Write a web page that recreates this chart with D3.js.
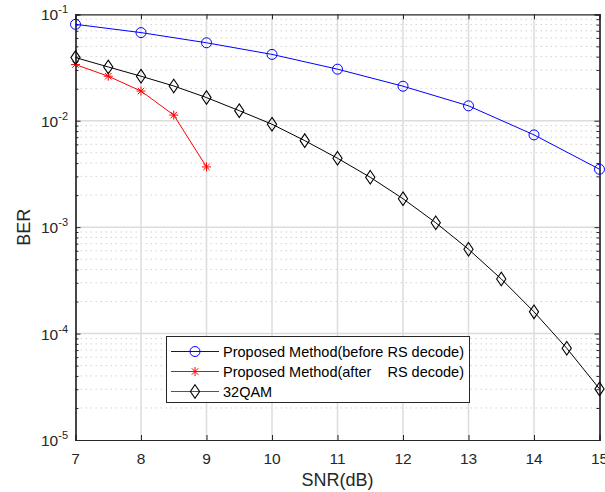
<!DOCTYPE html>
<html>
<head>
<meta charset="utf-8">
<script src="https://cdn.jsdelivr.net/npm/d3@7"></script>
<style>
  html, body { margin: 0; padding: 0; background: #fff; }
  svg { display: block; font-family: "Liberation Sans", Arial, sans-serif; }
</style>
</head>
<body>
<svg id="chart" width="605" height="492"></svg>
<script>
// SNR sample points (dB)
const snrInt = [7, 8, 9, 10, 11, 12, 13, 14, 15];
const snrAfter = [7, 7.5, 8, 8.5, 9];
const snrQam = [7, 7.5, 8, 8.5, 9, 9.5, 10, 10.5, 11, 11.5, 12, 12.5, 13, 13.5, 14, 14.5, 15];

// BER values
const berBefore = [0.0805, 0.0673, 0.054, 0.042, 0.0305, 0.0211, 0.0138, 0.00736, 0.0035];
const berAfter = [0.0337, 0.0262, 0.019, 0.0113, 0.00368];
const berQam = [0.0392, 0.032, 0.0262, 0.0212, 0.0165, 0.01243, 0.00927, 0.0065, 0.00444,
                0.00294, 0.00185, 0.0011, 0.00062, 0.000326, 0.00016, 0.0000728, 0.0000302];

// Axis ticks
const xTicks = [7, 8, 9, 10, 11, 12, 13, 14, 15];
const yExponents = [-5, -4, -3, -2, -1];

const legendLabels = [
  "Proposed Method(before RS decode)",
  "Proposed Method(after    RS decode)",
  "32QAM"
];

const svg = d3.select("#chart");
const plotL = 75.5, plotR = 599.5, plotT = 14.3, plotB = 440;

const x = d3.scaleLinear().domain([7, 15]).range([plotL, plotR]);
const y = d3.scaleLog().domain([1e-5, 1e-1]).range([plotB, plotT]);

const textColor = "#262626";

// Grid: minor dotted decades, then major solid lines
const g = svg.append("g");
const minorVals = [];
yExponents.slice(0, -1).forEach(e => {
  for (let k = 2; k <= 9; k++) minorVals.push(k * Math.pow(10, e));
});
g.selectAll(".yminor").data(minorVals).join("line")
  .attr("x1", plotL).attr("x2", plotR)
  .attr("y1", d => y(d)).attr("y2", d => y(d))
  .attr("stroke", "#d2d2d2").attr("stroke-width", 1)
  .attr("stroke-dasharray", "1.5,3.5");
g.selectAll(".xgrid").data(xTicks.slice(1, -1)).join("line")
  .attr("x1", d => x(d)).attr("x2", d => x(d))
  .attr("y1", plotT).attr("y2", plotB)
  .attr("stroke", "#dcdcdc").attr("stroke-width", 1.5);
g.selectAll(".ygrid").data(yExponents.slice(1, -1).map(e => Math.pow(10, e))).join("line")
  .attr("x1", plotL).attr("x2", plotR)
  .attr("y1", d => y(d)).attr("y2", d => y(d))
  .attr("stroke", "#dcdcdc").attr("stroke-width", 1.5);

// Axes with inward ticks on all four sides
const majorY = yExponents.map(e => Math.pow(10, e));
const axisB = d3.axisBottom(x).tickValues(xTicks).tickSize(-5).tickFormat("");
const axisT = d3.axisTop(x).tickValues(xTicks).tickSize(-5).tickFormat("");
const axisL = d3.axisLeft(y).tickValues(majorY).tickSize(-5).tickFormat("");
const axisR = d3.axisRight(y).tickValues(majorY).tickSize(-5).tickFormat("");
const axisLm = d3.axisLeft(y).tickValues(minorVals).tickSize(-3).tickFormat("");
const axisRm = d3.axisRight(y).tickValues(minorVals).tickSize(-3).tickFormat("");

function styleAxis(sel) {
  sel.selectAll("path").attr("stroke", textColor).attr("stroke-width", 1.2);
  sel.selectAll("line").attr("stroke", textColor).attr("stroke-width", 1);
}
svg.append("g").attr("transform", `translate(0,${plotB})`).call(axisB).call(styleAxis);
svg.append("g").attr("transform", `translate(0,${plotT})`).call(axisT).call(styleAxis);
svg.append("g").attr("transform", `translate(${plotL},0)`).call(axisL).call(styleAxis);
svg.append("g").attr("transform", `translate(${plotR},0)`).call(axisR).call(styleAxis);
svg.append("g").attr("transform", `translate(${plotL},0)`).call(axisLm).call(styleAxis);
svg.append("g").attr("transform", `translate(${plotR},0)`).call(axisRm).call(styleAxis);

// Tick labels
svg.append("g").selectAll("text").data(xTicks).join("text")
  .attr("x", d => x(d)).attr("y", plotB + 24)
  .attr("text-anchor", "middle").attr("fill", textColor)
  .style("font-size", "15.5px").text(d => d);

const yl = svg.append("g").selectAll("text").data(yExponents).join("text")
  .attr("x", 68).attr("y", d => y(Math.pow(10, d)) + 6)
  .attr("text-anchor", "end").attr("fill", textColor)
  .style("font-size", "15.5px");
yl.append("tspan").text("10");
yl.append("tspan").attr("dy", -7).style("font-size", "11px").text(d => "-" + Math.abs(d));

// Axis titles
svg.append("text").attr("x", (plotL + plotR) / 2).attr("y", plotB + 46)
  .attr("text-anchor", "middle").attr("fill", textColor)
  .style("font-size", "18px").text("SNR(dB)");
svg.append("text")
  .attr("transform", `translate(30,${(plotT + plotB) / 2}) rotate(-90)`)
  .attr("text-anchor", "middle").attr("fill", textColor)
  .style("font-size", "18px").text("BER");

// Marker shapes
function circleMarker(sel, color) {
  sel.append("circle").attr("r", 5).attr("fill", "none")
    .attr("stroke", color).attr("stroke-width", 1);
}
function starMarker(sel, color) {
  const r = 4.5, d = r * 0.72;
  const segs = [[0, -r, 0, r], [-r, 0, r, 0], [-d, -d, d, d], [-d, d, d, -d]];
  segs.forEach(s => sel.append("line")
    .attr("x1", s[0]).attr("y1", s[1]).attr("x2", s[2]).attr("y2", s[3])
    .attr("stroke", color).attr("stroke-width", 1));
}
function diamondMarker(sel, color) {
  sel.append("path").attr("d", "M0,-6.8L4.6,0L0,6.8L-4.6,0Z")
    .attr("fill", "none").attr("stroke", color).attr("stroke-width", 1.1);
}

const series = [
  { xs: snrInt, ys: berBefore, color: "#0000ff", marker: circleMarker, legendLine: "#0000ff" },
  { xs: snrAfter, ys: berAfter, color: "#ff0000", marker: starMarker, legendLine: "#ff0000" },
  { xs: snrQam, ys: berQam, color: "#000000", marker: diamondMarker, legendLine: "#555555" }
];

const line = d3.line().x(d => x(d[0])).y(d => y(d[1]));
series.forEach(s => {
  const pts = s.xs.map((v, i) => [v, s.ys[i]]);
  svg.append("path").datum(pts).attr("d", line)
    .attr("fill", "none").attr("stroke", s.color).attr("stroke-width", 1);
  svg.append("g").selectAll("g").data(pts).join("g")
    .attr("transform", d => `translate(${x(d[0])},${y(d[1])})`)
    .each(function () { s.marker(d3.select(this), s.color); });
});

// Legend
const lg = svg.append("g");
lg.append("rect").attr("x", 166.5).attr("y", 336.5).attr("width", 303).attr("height", 66)
  .attr("fill", "#fff").attr("stroke", textColor).attr("stroke-width", 1);
series.forEach((s, i) => {
  const cy = 351.5 + i * 20;
  lg.append("line").attr("x1", 171).attr("x2", 219).attr("y1", cy).attr("y2", cy)
    .attr("stroke", s.legendLine).attr("stroke-width", 1);
  const m = lg.append("g").attr("transform", `translate(195,${cy})`);
  s.marker(m, s.color);
  lg.append("text").attr("x", 223).attr("y", cy + 5)
    .attr("fill", "#000").style("font-size", "14.5px")
    .style("white-space", "pre").attr("xml:space", "preserve")
    .text(legendLabels[i]);
});
</script>
</body>
</html>
